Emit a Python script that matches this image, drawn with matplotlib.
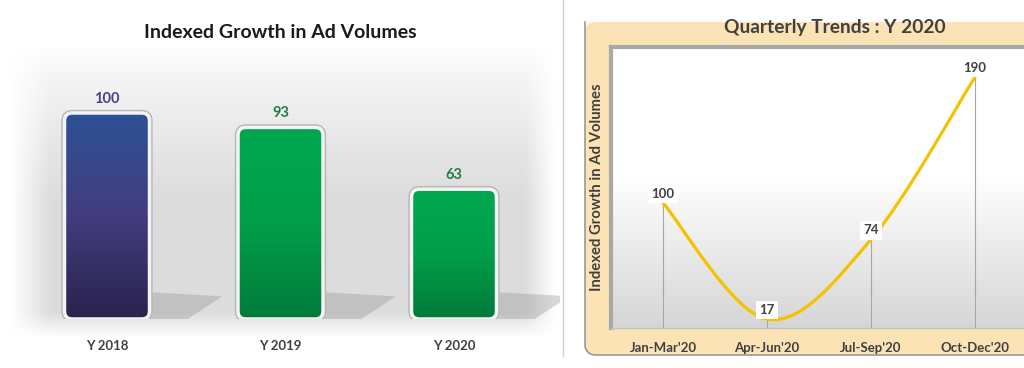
import matplotlib.pyplot as plt
import numpy as np
from matplotlib.patches import FancyBboxPatch, Polygon, PathPatch
from matplotlib.path import Path
import matplotlib.colors as mcolors

plt.rcParams['font.family'] = ['Lato', 'DejaVu Sans']

# left chart data
years = ['Y 2018', 'Y 2019', 'Y 2020']
ad_index = [100, 93, 63]
bar_top_colors = ['#2C5296', '#00A84F', '#00A84F']
bar_mid_colors = ['#433C7E', '#009E49', '#009E49']
bar_bot_colors = ['#29234F', '#007A3A', '#007A3A']
label_colors = ['#4A3F82', '#1E7E4A', '#1E7E4A']

# right chart data
quarters = ["Jan-Mar'20", "Apr-Jun'20", "Jul-Sep'20", "Oct-Dec'20"]
quarter_index = [100, 17, 74, 190]

W, H = 1024, 368
fig = plt.figure(figsize=(W / 100, H / 100), dpi=100)


def fbox(x0, y0, x1, y1):
    # pixel box (top-left origin) -> figure rect
    return [x0 / W, 1 - y1 / H, (x1 - x0) / W, (y1 - y0) / H]


# ---- background layer in pixel coords ----
bg = fig.add_axes([0, 0, 1, 1], zorder=-10)
bg.set_xlim(0, W)
bg.set_ylim(H, 0)
bg.axis('off')

yy = np.linspace(0, 1, 300)[:, None]
xx = np.linspace(0, 1, 300)[None, :]
ypx = 40 + yy * 300
xpx = 10 + xx * 550
v = np.clip((ypx - 45) / 150, 0, 1) ** 0.8 * np.clip((338 - ypx) / 25, 0, 1)
h = np.clip((xpx - 10) / 40, 0, 1) * np.clip((556 - xpx) / 30, 0, 1)
alpha = v * h * 0.9
img = np.zeros((300, 300, 4))
img[..., :3] = mcolors.to_rgb('#D9D9D9')
img[..., 3] = alpha
bg.imshow(img, extent=(10, 560, 340, 40), aspect='auto', zorder=0)

bg.plot([563, 563], [0, 356], color='#CFCFCF', lw=1)

# beige frame of the right chart
frame = FancyBboxPatch((585, 22), 470, 333, boxstyle='round,pad=0,rounding_size=10',
                       facecolor='#FBE3B5', edgecolor='none', zorder=1)
bg.add_patch(frame)
t = np.linspace(np.pi, np.pi / 2, 20)
arc_x = 595 + 10 * np.cos(t)
arc_y = 345 + 10 * np.sin(t)
bg.plot(np.r_[585, arc_x, 1024], np.r_[22, arc_y, 355], color='#9A9A9A', lw=1.2, zorder=2)

# ---- left bar chart ----
ax = fig.add_axes(fbox(0, 60, 560, 319))
spacing_px = 173.5
x = np.arange(len(years))
px_per_unit = 2.06
ax.axis('off')
ax.patch.set_alpha(0)

bw = 0.49
aspect = (1 / px_per_unit) / (1 / spacing_px)
for i, val in enumerate(ad_index):
    # floor shadow
    sh = Polygon([(x[i] + bw / 2, 0), (x[i] + bw / 2, 13), (x[i] + bw / 2 + 0.42, 11),
                  (x[i] + bw / 2 + 0.22, 0)], closed=True, facecolor='#8F8F8F',
                 edgecolor='none', alpha=0.35, zorder=1)
    ax.add_patch(sh)
    outer = FancyBboxPatch((x[i] - bw / 2, 0), bw, val,
                           boxstyle='round,pad=0,rounding_size=0.045',
                           mutation_aspect=aspect, facecolor='none',
                           edgecolor='#B5B5B5', lw=4.5, zorder=2)
    ax.add_patch(outer)
    box = FancyBboxPatch((x[i] - bw / 2, 0), bw, val,
                         boxstyle='round,pad=0,rounding_size=0.045',
                         mutation_aspect=aspect, facecolor='none',
                         edgecolor='#F4F4F4', lw=2.5, zorder=4)
    ax.add_patch(box)
    cmap = mcolors.LinearSegmentedColormap.from_list(
        'b%d' % i, [bar_bot_colors[i], bar_mid_colors[i], bar_top_colors[i]])
    grad = np.linspace(0, 1, 256)[:, None]
    im = ax.imshow(grad, cmap=cmap, origin='lower', aspect='auto',
                   extent=(x[i] - bw / 2, x[i] + bw / 2, 0, val), zorder=3)
    im.set_clip_path(box)
    ax.text(x[i], val + 7, str(val), ha='center', va='center', fontsize=10.5,
            fontweight='bold', color=label_colors[i])
    ax.text(x[i], -13, years[i], ha='center', va='center', fontsize=9.5,
            fontweight='bold', color='#404040', clip_on=False)

ax.set_xlim(-107 / spacing_px, (560 - 107) / spacing_px)
ax.set_ylim(0, (319 - 60) / px_per_unit)

fig.text(280 / W, 1 - 33 / H, 'Indexed Growth in Ad Volumes', ha='center', va='center',
         fontsize=14, fontweight='bold', color='#1A1A1A')

# ---- right line chart ----
ax2 = fig.add_axes(fbox(611, 47, 1024, 328), zorder=2)
grad2 = np.concatenate([np.linspace(0, 1, 55)[::-1], np.zeros(45)])[:, None]
cmap2 = mcolors.LinearSegmentedColormap.from_list('g2', ['#FFFFFF', '#D6D6D6'])
ax2.imshow(grad2, cmap=cmap2, aspect='auto', origin='lower',
           extent=(-0.5, 3.47, 10.7, 211.4), zorder=0)
ax2.set_xlim(-0.5, 3.47)
ax2.set_ylim(10.7, 211.4)
ax2.spines['right'].set_visible(False)
ax2.spines['top'].set_color('#A8A8A8')
ax2.spines['top'].set_linewidth(3)
ax2.spines['left'].set_color('#A8A8A8')
ax2.spines['left'].set_linewidth(3)
ax2.spines['bottom'].set_color('#C4C4C4')
ax2.spines['bottom'].set_linewidth(1)

qx = np.arange(len(quarters))
ax2.vlines(qx, 10.7, quarter_index, color='#A6A6A6', lw=0.8, zorder=1)

# smooth line (Catmull-Rom as cubic Bezier segments)
pts = np.column_stack([qx, quarter_index]).astype(float)
ext = np.vstack([pts[0], pts, pts[-1]])
verts = [tuple(pts[0])]
codes = [Path.MOVETO]
for i in range(len(pts) - 1):
    p0, p1, p2, p3 = ext[i], ext[i + 1], ext[i + 2], ext[i + 3]
    c1 = p1 + (p2 - p0) / 6
    c2 = p2 - (p3 - p1) / 6
    verts += [tuple(c1), tuple(c2), tuple(p2)]
    codes += [Path.CURVE4] * 3
ax2.add_patch(PathPatch(Path(verts, codes), facecolor='none', edgecolor='#F5C200',
                        lw=2.3, zorder=3, capstyle='round'))

for xi, val in zip(qx, quarter_index):
    ax2.text(xi, val + 6.5, str(val), ha='center', va='center', fontsize=9.5,
             fontweight='bold', color='#404040', zorder=5,
             bbox=dict(boxstyle='square,pad=0.25', facecolor='white', edgecolor='none'))

ax2.set_xticks(qx)
ax2.set_xticklabels(quarters, fontsize=9.5, fontweight='bold', color='#404040')
ax2.tick_params(axis='x', length=0, pad=10)
ax2.set_yticks([])
ax2.set_ylabel('Indexed Growth in Ad Volumes', fontsize=10.7, fontweight='bold',
               color='#404040', labelpad=5)

fig.text(835 / W, 1 - 28 / H, 'Quarterly Trends : Y 2020', ha='center', va='center',
         fontsize=13.8, fontweight='bold', color='#404040', zorder=5)

plt.savefig('out.png', dpi=100)
